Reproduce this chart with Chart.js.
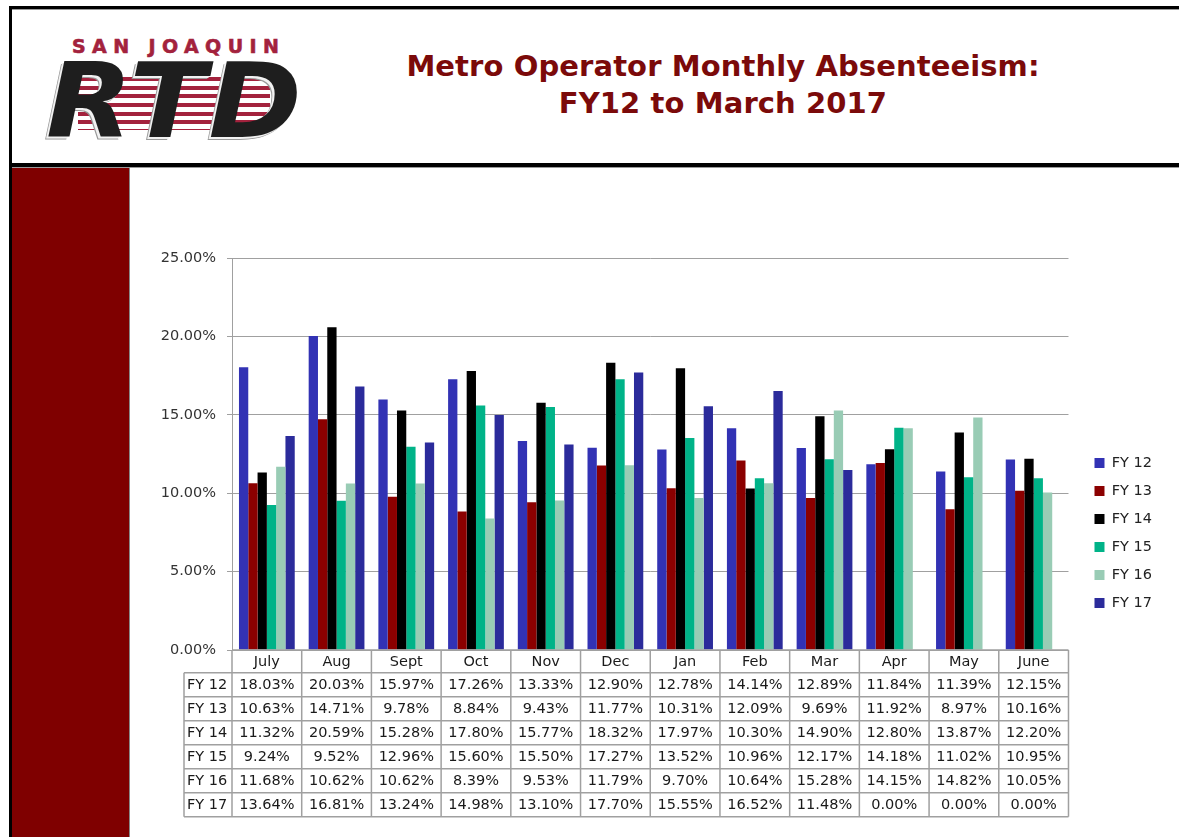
<!DOCTYPE html>
<html>
<head>
<meta charset="utf-8">
<script src="https://cdn.jsdelivr.net/npm/chart.js@4.4.1/dist/chart.umd.min.js"></script>
<style>
  body { margin: 0; background: #fff; width: 1179px; height: 837px; overflow: hidden; position: relative; font-family: "DejaVu Sans", sans-serif; }
  .frame { position: absolute; background: #000; }
  #sidebar { position: absolute; left: 12px; top: 168px; width: 117px; height: 669px; background: #7f0000; border-right: 1px solid #888; }
  #sanjoaquin { position: absolute; left: 72px; top: 35px; font: 900 19px "DejaVu Sans", sans-serif; letter-spacing: 6.4px; color: #a3223d; white-space: nowrap; -webkit-text-stroke: 0.6px #a3223d; }
  #stripes { position: absolute; left: 78px; top: 77px; width: 192px; height: 53px; background: repeating-linear-gradient(#a3223d 0 4px, #fff 4px 8.7px); }
  #rtd { position: absolute; left: 46px; top: 49px; font: italic bold 104px/1 "DejaVu Sans", sans-serif; color: #1e1e1e; letter-spacing: 2px;
         transform: scaleX(1.08); transform-origin: left top;
         text-shadow: -2px 2px 0 #f2f2f2, -3px 3px 0 #999; white-space: nowrap; }
  #title { position: absolute; left: 373px; width: 700px; top: 47.5px; text-align: center; font: bold 29px/37px "DejaVu Sans", sans-serif; letter-spacing: 0.1px; color: #7b0a0a; white-space: nowrap; }
  #wrap { position: absolute; left: 130px; top: 170px; width: 1049px; height: 667px; }
</style>
</head>
<body>
<div class="frame" style="left:9px; top:6px; width:1170px; height:3px;"></div>
<div style="position:absolute; left:12px; top:9px; width:1167px; height:1px; background:#999;"></div>
<div class="frame" style="left:9px; top:6px; width:3px; height:831px;"></div>
<div class="frame" style="left:9px; top:163px; width:1170px; height:4px;"></div>
<div style="position:absolute; left:12px; top:167px; width:1167px; height:1px; background:#999;"></div>
<div id="sidebar"></div>

<div id="sanjoaquin">SAN JOAQUIN</div>
<div id="stripes"></div>
<div id="rtd">RTD</div>

<div id="title">Metro Operator Monthly Absenteeism:<br>FY12 to March 2017</div>

<div id="wrap"><canvas id="absenteeism"></canvas></div>

<script>
const months = ['July', 'Aug', 'Sept', 'Oct', 'Nov', 'Dec', 'Jan', 'Feb', 'Mar', 'Apr', 'May', 'June'];
const fyLabels = ['FY 12', 'FY 13', 'FY 14', 'FY 15', 'FY 16', 'FY 17'];
const fy12 = [18.03, 20.03, 15.97, 17.26, 13.33, 12.90, 12.78, 14.14, 12.89, 11.84, 11.39, 12.15];
const fy13 = [10.63, 14.71, 9.78, 8.84, 9.43, 11.77, 10.31, 12.09, 9.69, 11.92, 8.97, 10.16];
const fy14 = [11.32, 20.59, 15.28, 17.80, 15.77, 18.32, 17.97, 10.30, 14.90, 12.80, 13.87, 12.20];
const fy15 = [9.24, 9.52, 12.96, 15.60, 15.50, 17.27, 13.52, 10.96, 12.17, 14.18, 11.02, 10.95];
const fy16 = [11.68, 10.62, 10.62, 8.39, 9.53, 11.79, 9.70, 10.64, 15.28, 14.15, 14.82, 10.05];
const fy17 = [13.64, 16.81, 13.24, 14.98, 13.10, 17.70, 15.55, 16.52, 11.48, 0.00, 0.00, 0.00];
const yTicks = [0, 5, 10, 15, 20, 25];

const series = [fy12, fy13, fy14, fy15, fy16, fy17];
const colors = ['#3232b4', '#8b0000', '#000000', '#00b388', '#99ccb5', '#2b2b9b'];
const FONT = '"DejaVu Sans", sans-serif';

// data table under the plot, columns follow the x scale
const dataTable = {
  id: 'dataTable',
  afterDraw(chart) {
    const ctx = chart.ctx;
    const x = chart.scales.x;
    const area = chart.chartArea;
    const colW = area.width / months.length;
    const top = area.bottom;
    const headH = 22.7, rowH = 24;
    const labelLeft = area.left - 48;
    const bottom = top + headH + rowH * fyLabels.length;

    ctx.save();
    ctx.strokeStyle = '#a0a0a0';
    ctx.lineWidth = 1.5;
    ctx.beginPath();
    ctx.moveTo(area.left, top); ctx.lineTo(area.right, top);
    for (let i = 0; i <= months.length; i++) {
      const cx = x.getPixelForValue(i) - colW / 2;
      ctx.moveTo(cx, top); ctx.lineTo(cx, bottom);
    }
    ctx.moveTo(labelLeft, top + headH); ctx.lineTo(labelLeft, bottom);
    for (let r = 0; r <= fyLabels.length; r++) {
      const y = top + headH + r * rowH;
      ctx.moveTo(labelLeft, y); ctx.lineTo(area.right, y);
    }
    ctx.stroke();

    ctx.fillStyle = '#1a1a1a';
    ctx.font = '14.5px ' + FONT;
    ctx.textBaseline = 'middle';
    ctx.textAlign = 'center';
    months.forEach((m, i) => ctx.fillText(m, x.getPixelForValue(i), top + headH / 2 + 1));
    series.forEach((s, r) => {
      const y = top + headH + r * rowH + rowH / 2 + 1;
      ctx.textAlign = 'left';
      ctx.fillText(fyLabels[r], labelLeft + 3, y);
      ctx.textAlign = 'center';
      s.forEach((v, i) => ctx.fillText(v.toFixed(2) + '%', x.getPixelForValue(i), y));
    });
    ctx.restore();
  }
};

new Chart(document.getElementById('absenteeism'), {
  type: 'bar',
  data: {
    labels: months,
    datasets: series.map((s, i) => ({
      label: fyLabels[i],
      data: s,
      backgroundColor: colors[i],
      borderWidth: 0,
      categoryPercentage: 0.8,
      barPercentage: 1.0
    }))
  },
  options: {
    responsive: true,
    maintainAspectRatio: false,
    animation: false,
    layout: { padding: { top: 88, bottom: 29, left: 0, right: 17 } },
    plugins: {
      tooltip: { enabled: false },
      legend: {
        position: 'right',
        align: 'center',
        labels: {
          boxWidth: 10,
          boxHeight: 10,
          padding: 13.5,
          color: '#222',
          font: { family: FONT, size: 14.5 }
        }
      }
    },
    scales: {
      x: {
        grid: { display: false },
        border: { display: false },
        ticks: { display: false },
        afterFit: s => { s.height = 158; }
      },
      y: {
        min: 0,
        max: 25,
        afterBuildTicks: s => { s.ticks = yTicks.map(v => ({ value: v })); },
        grid: { color: '#a0a0a0', tickLength: 5, lineWidth: 1 },
        border: { color: '#a0a0a0' },
        ticks: {
          padding: 11,
          color: '#333',
          font: { family: FONT, size: 14.5 },
          callback: v => v.toFixed(2) + '%'
        },
        afterFit: s => { s.width = 102; }
      },
      y2: {
        position: 'right',
        display: true,
        grid: { display: false },
        border: { display: false },
        ticks: { display: false },
        afterFit: s => { s.width = 12.5; }
      }
    }
  },
  plugins: [dataTable]
});
</script>
</body>
</html>
